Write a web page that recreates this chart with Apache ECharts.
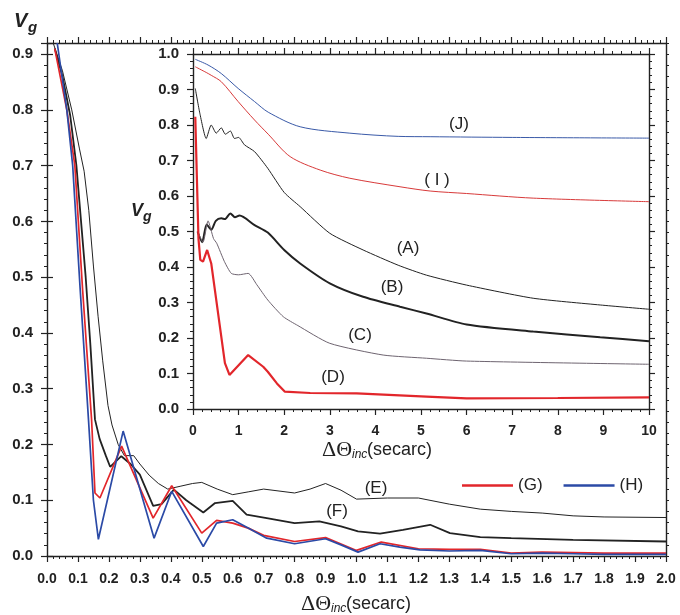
<!DOCTYPE html>
<html>
<head>
<meta charset="utf-8">
<script src="https://cdn.jsdelivr.net/npm/echarts@6/dist/echarts.min.js"></script>
<style>
html,body{margin:0;padding:0;background:#fff;}
#chart{width:680px;height:615px;}
</style>
</head>
<body>
<div id="chart"></div>
<script>
// ---------- Main plot data: [ΔΘinc (secarc), Vg] ----------
const curveE = [[0.02,0.92],[0.05,0.87],[0.08,0.80],[0.105,0.73],[0.12,0.69],[0.135,0.62],[0.15,0.52],[0.165,0.43],[0.18,0.35],[0.197,0.27],[0.21,0.235],[0.23,0.20],[0.25,0.18],[0.28,0.18],[0.30,0.165],[0.33,0.145],[0.36,0.13],[0.39,0.12],[0.43,0.125],[0.47,0.13],[0.50,0.132],[0.55,0.12],[0.60,0.11],[0.65,0.115],[0.70,0.12],[0.80,0.113],[0.85,0.12],[0.90,0.13],[0.95,0.118],[1.00,0.102],[1.10,0.104],[1.20,0.104],[1.30,0.093],[1.40,0.084],[1.50,0.080],[1.60,0.077],[1.70,0.072],[1.80,0.070],[2.00,0.069]];
const curveF = [[0.025,0.91],[0.05,0.86],[0.075,0.79],[0.095,0.70],[0.11,0.60],[0.125,0.50],[0.14,0.38],[0.155,0.245],[0.17,0.21],[0.19,0.18],[0.204,0.16],[0.24,0.179],[0.27,0.165],[0.30,0.146],[0.343,0.09],[0.37,0.093],[0.41,0.119],[0.45,0.10],[0.505,0.078],[0.543,0.095],[0.60,0.099],[0.645,0.074],[0.71,0.068],[0.80,0.059],[0.88,0.062],[0.95,0.053],[1.005,0.044],[1.076,0.040],[1.15,0.047],[1.238,0.056],[1.302,0.041],[1.40,0.034],[1.50,0.032],[1.70,0.029],[2.00,0.026]];
const curveG = [[0.025,0.91],[0.064,0.80],[0.09,0.70],[0.115,0.478],[0.144,0.245],[0.155,0.113],[0.171,0.104],[0.241,0.197],[0.343,0.068],[0.403,0.126],[0.50,0.041],[0.548,0.064],[0.60,0.059],[0.65,0.05],[0.70,0.037],[0.80,0.026],[0.90,0.033],[1.00,0.010],[1.08,0.025],[1.20,0.013],[1.30,0.012],[1.40,0.012],[1.50,0.005],[1.60,0.007],[1.80,0.005],[2.00,0.005]];
const curveH = [[0.033,0.92],[0.064,0.80],[0.083,0.70],[0.107,0.48],[0.134,0.245],[0.15,0.10],[0.166,0.030],[0.246,0.224],[0.346,0.032],[0.403,0.116],[0.505,0.017],[0.548,0.059],[0.60,0.065],[0.65,0.05],[0.71,0.032],[0.80,0.022],[0.90,0.031],[0.95,0.020],[1.005,0.007],[1.076,0.022],[1.14,0.016],[1.205,0.011],[1.30,0.009],[1.40,0.010],[1.50,0.004],[1.60,0.005],[1.70,0.004],[1.80,0.003],[2.00,0.003]];

// ---------- Inset data: [ΔΘinc (secarc), Vg] ----------
const curveJ = [[0.05,0.985],[0.33,0.969],[0.62,0.945],[0.99,0.903],[1.35,0.866],[1.65,0.836],[2.35,0.795],[3.44,0.777],[4.5,0.768],[5.2,0.767],[7.0,0.765],[10,0.763]];
const curveI = [[0.05,0.964],[0.29,0.948],[0.40,0.94],[0.62,0.922],[0.99,0.866],[1.35,0.814],[1.65,0.774],[2.13,0.711],[2.79,0.673],[3.44,0.65],[4.54,0.626],[5.2,0.614],[6.0,0.607],[7.46,0.594],[10,0.584]];
const curveA = [[0.05,0.903],[0.15,0.833],[0.29,0.762],[0.40,0.80],[0.51,0.777],[0.62,0.792],[0.71,0.774],[0.82,0.783],[0.91,0.762],[1.0,0.765],[1.13,0.744],[1.35,0.725],[1.64,0.678],[2.0,0.61],[2.35,0.57],[3.0,0.495],[3.73,0.448],[4.5,0.405],[5.12,0.377],[6.0,0.349],[7.46,0.312],[8.93,0.293],[10,0.281]];
const curveB = [[0.1,0.50],[0.2,0.47],[0.3,0.52],[0.4,0.505],[0.5,0.53],[0.62,0.537],[0.7,0.535],[0.82,0.551],[0.92,0.54],[1.02,0.545],[1.35,0.518],[1.64,0.497],[2.0,0.448],[2.35,0.41],[3.0,0.354],[3.73,0.316],[4.54,0.288],[5.12,0.269],[6.0,0.238],[7.46,0.218],[8.93,0.202],[10,0.191]];
const curveC = [[0.1,0.50],[0.22,0.47],[0.33,0.53],[0.45,0.48],[0.52,0.467],[0.69,0.415],[0.84,0.382],[1.0,0.378],[1.21,0.382],[1.4,0.35],[1.64,0.307],[1.98,0.26],[2.3,0.235],[3.0,0.185],[4.17,0.152],[5.12,0.143],[6.0,0.135],[10,0.126]];
const curveD = [[0.05,0.823],[0.12,0.48],[0.16,0.42],[0.22,0.415],[0.31,0.448],[0.40,0.41],[0.70,0.129],[0.80,0.096],[1.21,0.152],[1.54,0.119],[1.64,0.105],[1.84,0.072],[2.01,0.049],[2.57,0.045],[3.59,0.044],[5.12,0.035],[6.0,0.030],[8.0,0.031],[10,0.033]];

const curveLabels = [
  {text:'(J)', x:459, y:124}, {text:'( I )', x:437, y:180},
  {text:'(A)', x:408, y:248}, {text:'(B)', x:392, y:287},
  {text:'(C)', x:360, y:335}, {text:'(D)', x:333, y:377},
  {text:'(E)', x:376, y:488}, {text:'(F)', x:337, y:511}
];

const INK = '#222';
const RED = '#e2262b';
const BLUE = '#2b4aa6';
const SANS = '"Liberation Sans", Arial, sans-serif';
const SERIF = '"Liberation Serif", "DejaVu Serif", serif';

function is10th(v){ return Math.abs(Math.round(v*10) - v*10) < 1e-6; }

function xAx(grid, pos, min, max, interval, showLabel, fmt, margin){
  return {
    type:'value', gridIndex:grid, position:pos, min:min, max:max, interval:interval,
    axisLine:{show:true, onZero:false, lineStyle:{color:INK, width:1.4}},
    axisTick:{show:true, inside:false, length:6, lineStyle:{color:INK, width:1.2}},
    minorTick:{show:true, splitNumber:5, length:3, lineStyle:{color:INK, width:1}},
    splitLine:{show:false}, minorSplitLine:{show:false},
    axisLabel:{show:showLabel, formatter:fmt, margin:margin, color:INK, fontWeight:'bold', fontSize:14, fontFamily:SANS}
  };
}

const option = {
  animation:false,
  backgroundColor:'#fff',
  grid:[
    {left:47, right:14, top:43, bottom:59, containLabel:false},
    {left:193, right:31, top:54, bottom:206, containLabel:false}
  ],
  xAxis:[
    xAx(0,'bottom',0,2,0.1,true,v=>v.toFixed(1),16),
    xAx(0,'top',0,2,0.1,false,null,8),
    xAx(1,'bottom',0,10,1,true,v=>String(Math.round(v)),15),
    xAx(1,'top',0,10,1,false,null,8)
  ],
  yAxis:[
    {type:'value', gridIndex:0, position:'left', min:0, max:0.92, interval:0.02,
      axisLine:{show:true, onZero:false, lineStyle:{color:INK, width:1.4}},
      axisTick:{show:true, length:3, lineStyle:{color:INK, width:1}},
      splitLine:{show:false},
      axisLabel:{show:true, margin:14, color:INK, fontWeight:'bold', fontSize:15, fontFamily:SANS,
        formatter:v=>is10th(v)?v.toFixed(1):''}},
    {type:'value', gridIndex:0, position:'left', min:0, max:0.92, interval:0.1,
      axisLine:{show:false}, axisTick:{show:true, length:6, lineStyle:{color:INK, width:1.2}},
      splitLine:{show:false}, axisLabel:{show:false}},
    {type:'value', gridIndex:0, position:'right', min:0, max:0.92, interval:0.02,
      axisLine:{show:true, onZero:false, lineStyle:{color:INK, width:1.4}},
      axisTick:{show:true, length:3, lineStyle:{color:INK, width:1}},
      splitLine:{show:false}, axisLabel:{show:false}},
    {type:'value', gridIndex:0, position:'right', min:0, max:0.92, interval:0.1,
      axisLine:{show:false}, axisTick:{show:true, length:6, lineStyle:{color:INK, width:1.2}},
      splitLine:{show:false}, axisLabel:{show:false}},
    {type:'value', gridIndex:1, position:'left', min:0, max:1, interval:0.1,
      axisLine:{show:true, onZero:false, lineStyle:{color:INK, width:1.4}},
      axisTick:{show:true, length:6, lineStyle:{color:INK, width:1.2}},
      minorTick:{show:true, splitNumber:5, length:3, lineStyle:{color:INK, width:1}},
      splitLine:{show:false},
      axisLabel:{show:true, margin:14, color:INK, fontWeight:'bold', fontSize:15, fontFamily:SANS, formatter:v=>v.toFixed(1)}},
    {type:'value', gridIndex:1, position:'right', min:0, max:1, interval:0.1,
      axisLine:{show:true, onZero:false, lineStyle:{color:INK, width:1.4}},
      axisTick:{show:true, length:6, lineStyle:{color:INK, width:1.2}},
      minorTick:{show:true, splitNumber:5, length:3, lineStyle:{color:INK, width:1}},
      splitLine:{show:false}, axisLabel:{show:false}}
  ],
  legend:{
    data:['(G)','(H)'], left:457, top:472, orient:'horizontal',
    icon:'rect', itemWidth:51, itemHeight:2.5, itemGap:21,
    textStyle:{fontSize:17, color:INK, fontFamily:SANS}
  },
  series:[
    {name:'(E)', type:'line', xAxisIndex:0, yAxisIndex:0, data:curveE, symbol:'none', lineStyle:{color:INK, width:1}, itemStyle:{color:INK}},
    {name:'(F)', type:'line', xAxisIndex:0, yAxisIndex:0, data:curveF, symbol:'none', lineStyle:{color:INK, width:1.8}, itemStyle:{color:INK}},
    {name:'(G)', type:'line', xAxisIndex:0, yAxisIndex:0, data:curveG, symbol:'none', lineStyle:{color:RED, width:1.7}, itemStyle:{color:RED}},
    {name:'(H)', type:'line', xAxisIndex:0, yAxisIndex:0, data:curveH, symbol:'none', lineStyle:{color:BLUE, width:1.7}, itemStyle:{color:BLUE}},
    {name:'(J)', type:'line', xAxisIndex:2, yAxisIndex:4, data:curveJ, symbol:'none', smooth:0.3, lineStyle:{color:'#3a5aa8', width:1}},
    {name:'(I)', type:'line', xAxisIndex:2, yAxisIndex:4, data:curveI, symbol:'none', smooth:0.3, lineStyle:{color:'#d83a3a', width:1}},
    {name:'(A)', type:'line', xAxisIndex:2, yAxisIndex:4, data:curveA, symbol:'none', smooth:0.2, lineStyle:{color:INK, width:1}},
    {name:'(B)', type:'line', xAxisIndex:2, yAxisIndex:4, data:curveB, symbol:'none', smooth:0.25, lineStyle:{color:INK, width:2}},
    {name:'(C)', type:'line', xAxisIndex:2, yAxisIndex:4, data:curveC, symbol:'none', smooth:0.2, lineStyle:{color:'#6e6470', width:1}},
    {name:'(D)', type:'line', xAxisIndex:2, yAxisIndex:4, data:curveD, symbol:'none', lineStyle:{color:RED, width:2.2}}
  ],
  graphic:[]
};

function txt(t, x, y, font, align){
  return {type:'text', x:x, y:y, silent:true,
    style:{text:t, font:font, fill:INK, textAlign:align||'left', textVerticalAlign:'middle'}};
}
curveLabels.forEach(l => option.graphic.push(txt(l.text, l.x, l.y, '17px '+SANS, 'center')));
option.graphic.push(txt('V', 14, 21, 'italic bold 20px '+SANS));
option.graphic.push(txt('g', 28, 28, 'italic bold 15px '+SANS));
option.graphic.push(txt('V', 131, 211, 'italic bold 18px '+SANS));
option.graphic.push(txt('g', 143, 217, 'italic bold 14px '+SANS));
function axisTitle(x0, yc, size){
  option.graphic.push(txt('ΔΘ', x0, yc, (size+4)+'px '+SERIF));
  option.graphic.push(txt('inc', x0+30, yc+5, 'italic '+Math.round(size*0.65)+'px '+SANS));
  option.graphic.push(txt('(secarc)', x0+45, yc, size+'px '+SANS));
}
axisTitle(301, 604, 18);
axisTitle(322, 450, 18);

const chart = echarts.init(document.getElementById('chart'), null, {renderer:'canvas'});
chart.setOption(option);
</script>
</body>
</html>
